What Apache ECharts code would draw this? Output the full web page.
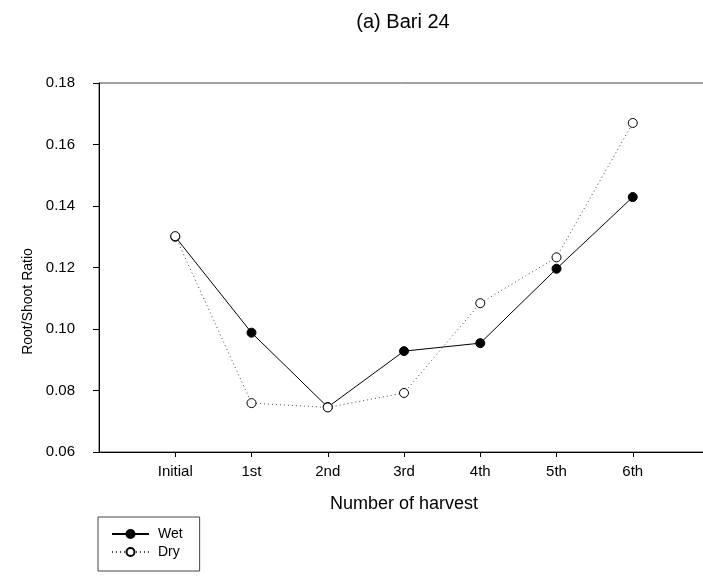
<!DOCTYPE html>
<html>
<head>
<meta charset="utf-8">
<script src="https://cdn.jsdelivr.net/npm/echarts@6/dist/echarts.min.js"></script>
<style>html,body{margin:0;padding:0;background:#fff}#c{width:703px;height:576px}</style>
</head>
<body>
<div id="c"></div>
<script>
var categories = ['Initial', '1st', '2nd', '3rd', '4th', '5th', '6th'];
var wet = [0.130, 0.0988, 0.0746, 0.0928, 0.0954, 0.1196, 0.1429];
var dry = [0.1302, 0.0759, 0.0745, 0.0792, 0.1084, 0.1233, 0.1670];
var yTicks = [0.06, 0.08, 0.10, 0.12, 0.14, 0.16, 0.18];
var catPositions = categories.map(function (c, i) { return i + 1; });

var FONT = 'Liberation Sans, Arial, sans-serif';
var chart = echarts.init(document.getElementById('c'), null, {renderer: 'canvas'});
chart.setOption({
  animation: false,
  backgroundColor: '#fff',
  title: {
    text: '(a) Bari 24',
    left: 398,
    top: 7,
    textAlign: 'center',
    textStyle: {fontFamily: FONT, fontSize: 20, fontWeight: 'normal', color: '#000'}
  },
  legend: {
    orient: 'vertical',
    left: 98,
    top: 517,
    data: ['Wet', 'Dry'],
    itemWidth: 37,
    itemHeight: 10,
    itemGap: 4,
    padding: [10, 17, 12, 13],
    borderColor: '#444',
    borderWidth: 1,
    textStyle: {fontFamily: FONT, fontSize: 14, color: '#000', padding: [0, 0, 0, 4]}
  },
  grid: {
    left: 99, top: 83, width: 610, height: 369,
    outerBoundsMode: 'none',
    containLabel: false,
    show: true, borderColor: '#444', borderWidth: 1, backgroundColor: 'transparent'
  },
  xAxis: {
    type: 'value',
    min: 0, max: 8, interval: 1,
    name: 'Number of harvest',
    nameLocation: 'middle',
    nameGap: 43,
    nameTextStyle: {fontFamily: FONT, fontSize: 18, color: '#000'},
    axisLine: {show: true, lineStyle: {color: '#000', width: 1}},
    axisTick: {show: true, length: 5, lineStyle: {color: '#000'}, customValues: catPositions},
    axisLabel: {
      fontFamily: FONT, fontSize: 15, color: '#000', margin: 12,
      customValues: catPositions,
      formatter: function (v) { return categories[Math.round(v) - 1] || ''; }
    },
    splitLine: {show: false}
  },
  yAxis: {
    type: 'value',
    min: yTicks[0], max: yTicks[yTicks.length - 1], interval: 0.02,
    name: 'Root/Shoot Ratio',
    nameLocation: 'middle',
    nameGap: 64,
    nameRotate: 90,
    nameTextStyle: {fontFamily: FONT, fontSize: 14, color: '#000', padding: [0, 68, 0, 0]},
    axisLine: {show: true, lineStyle: {color: '#000', width: 1}},
    axisTick: {show: true, length: 6, lineStyle: {color: '#000'}},
    axisLabel: {
      fontFamily: FONT, fontSize: 15, color: '#000', margin: 24,
      formatter: function (v) { return v.toFixed(2); }
    },
    splitLine: {show: false}
  },
  series: [
    {
      name: 'Wet',
      type: 'line',
      data: wet.map(function (v, i) { return [i + 1, v]; }),
      symbol: 'circle',
      symbolSize: 9,
      itemStyle: {color: '#000', borderColor: '#000', borderWidth: 1},
      lineStyle: {color: '#000', width: 1, type: 'solid'},
      z: 2
    },
    {
      name: 'Dry',
      type: 'line',
      data: dry.map(function (v, i) { return [i + 1, v]; }),
      symbol: 'circle',
      symbolSize: 9,
      itemStyle: {color: '#fff', borderColor: '#000', borderWidth: 1},
      lineStyle: {color: '#444', width: 1, type: [1, 3]},
      z: 3
    }
  ]
});
</script>
</body>
</html>
